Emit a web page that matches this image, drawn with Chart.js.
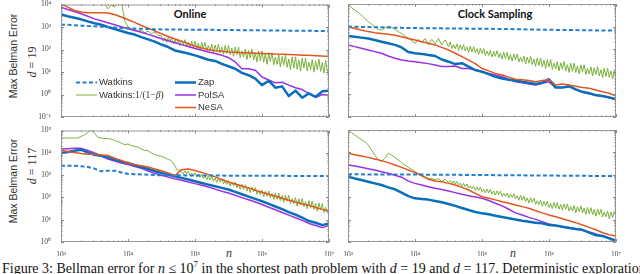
<!DOCTYPE html>
<html>
<head>
<meta charset="utf-8">
<script src="https://cdn.jsdelivr.net/npm/chart.js@4.4.1/dist/chart.umd.min.js"></script>
<style>
  html, body { margin: 0; padding: 0; background: #fff; }
  body { width: 640px; height: 274px; overflow: hidden; position: relative; }
  canvas { position: absolute; }
  .lbl { position: absolute; white-space: nowrap; color: #333; transform: translate(-50%, -50%); }
  .rot { transform: translate(-50%, -50%) rotate(-90deg); }
  .ytitle { font: 10.5px "Liberation Sans", Arial, sans-serif; }
  .dlab { font: 12px "Liberation Serif", serif; }
  .ptitle { font: bold 11px Lato, "Liberation Sans", sans-serif; color: #111; }
  .nlab { font: italic 12px "Liberation Serif", serif; }
  #caption { position: absolute; left: 2px; top: 257px; font: 14px/14px "Liberation Serif", serif; color: #111; white-space: nowrap; }
</style>
</head>
<body>
<div class="lbl rot ytitle" style="left:13px;top:56px">Max Belman Error</div>
<div class="lbl rot dlab" style="left:32px;top:62px"><i>d</i> = 19</div>
<div class="lbl rot ytitle" style="left:13px;top:181px">Max Belman Error</div>
<div class="lbl rot dlab" style="left:32px;top:166px"><i>d</i> = 117</div>
<div class="lbl ptitle" style="left:190px;top:13px">Online</div>
<div class="lbl ptitle" style="left:495px;top:13px">Clock Sampling</div>
<div class="lbl nlab" style="left:229px;top:253px">n</div>
<div class="lbl nlab" style="left:513px;top:253px">n</div>
<div id="caption">Figure 3: Bellman error for <i>n</i> ≤ 10<sup style="font-size:9px">7</sup> in the shortest path problem with <i>d</i> = 19 and <i>d</i> = 117. Deterministic exploration</div>

<script>
// sample grids (n)
const N10 = [1e3,1.26e3,1.58e3,2e3,2.51e3,3.16e3,3.98e3,5.01e3,6.31e3,7.94e3,
  1e4,1.26e4,1.58e4,2e4,2.51e4,3.16e4,3.98e4,5.01e4,6.31e4,7.94e4,
  1e5,1.26e5,1.58e5,2e5,2.51e5,3.16e5,3.98e5,5.01e5,6.31e5,7.94e5,
  1e6,1.26e6,1.58e6,2e6,2.51e6,3.16e6,3.98e6,5.01e6,6.31e6,7.94e6,1e7];
// early part of the 1/(1-beta) runs
const N_HEAD = [1e3,1.12e3,1.26e3,1.41e3,1.58e3,1.78e3,2e3,2.24e3,2.51e3,2.82e3,3.16e3,3.55e3,3.98e3,4.47e3,5.01e3,5.62e3,6.31e3,7.08e3,7.94e3,8.91e3,
  1e4,1.12e4,1.26e4,1.41e4,1.58e4,1.78e4,2e4,2.24e4,2.51e4,2.82e4];
// noisy part of the 1/(1-beta) runs, denser sampling
const N_TAIL = [3.16e4,3.35e4,3.55e4,3.76e4,3.98e4,4.22e4,4.47e4,4.73e4,5.01e4,5.31e4,5.62e4,5.96e4,6.31e4,6.68e4,7.08e4,7.5e4,7.94e4,8.41e4,8.91e4,9.44e4,
  1e5,1.06e5,1.12e5,1.19e5,1.26e5,1.33e5,1.41e5,1.5e5,1.58e5,1.68e5,1.78e5,1.88e5,2e5,2.11e5,2.24e5,2.37e5,2.51e5,2.66e5,2.82e5,2.99e5,
  3.16e5,3.35e5,3.55e5,3.76e5,3.98e5,4.22e5,4.47e5,4.73e5,5.01e5,5.31e5,5.62e5,5.96e5,6.31e5,6.68e5,7.08e5,7.5e5,7.94e5,8.41e5,8.91e5,9.44e5,
  1e6,1.06e6,1.12e6,1.19e6,1.26e6,1.33e6,1.41e6,1.5e6,1.58e6,1.68e6,1.78e6,1.88e6,2e6,2.11e6,2.24e6,2.37e6,2.51e6,2.66e6,2.82e6,2.99e6,
  3.16e6,3.35e6,3.55e6,3.76e6,3.98e6,4.22e6,4.47e6,4.73e6,5.01e6,5.31e6,5.62e6,5.96e6,6.31e6,6.68e6,7.08e6,7.5e6,7.94e6,8.41e6,8.91e6,9.44e6,1e7];

const X_TICKS = [1e3, 1e4, 1e5, 1e6, 1e7];
const Y_TICKS_TOP = [1e-1, 1e0, 1e1, 1e2, 1e3, 1e4];
const Y_TICKS_BOTTOM = [1e0, 1e1, 1e2, 1e3, 1e4, 1e5];

// d = 19, online
const TL_WATKINS = [1300,1250,1200,1150,1100,1070,1030,990,950,900,870,850,830,810,795,780,775,770,765,760,
  760,755,750,745,740,735,730,725,720,715,710,705,700,695,690,685,680,675,670,665,660];
const TL_BETA_HEAD = [40000,38000,36000,34000,32000,30000,28000,26000,24000,22000,20000,18000,16000,11500,6400,9300,7600,12600,14000,1950,
  1000,830,760,660,710,560,650,500,600,420];
const TL_BETA_TAIL = [398,233,336,203,347,219,340,179,264,177,285,147,260,157,275,135,215,116,238,121,
  234,108,189,93,206,109,206,86,150,89,172,73,157,83,173,71,129,60,150,66,
  151,59,116,49,129,59,128,44,87,46,103,36,91,42,103,34,72,28,87,31,
  87,27,64,22,72,29,72,21,46,22,56,17,49,20,56,16,38,13,46,15,
  47,13,34,11,41,15,42,11,27,12.5,35,9.8,31,12.6,37,10.6,26,8.9,33,10.6,17];
const TL_ZAP = [3630,3020,2570,2190,1780,1480,1260,1000,810,660,540,460,355,280,224,166,129,91,78,66,
  55,44,35,31,23,18,14,9.1,7.2,5.1,2.6,4.1,2.0,2.3,0.85,1.48,0.72,1.12,0.79,1.38,1.48];
const TL_POLSA = [7600,6000,4900,3900,3000,2300,1900,1550,1260,1020,830,700,580,470,380,300,245,200,165,135,
  110,92,78,66,55,44,28,14,14,12,6,4.4,3.3,3.5,2.6,2.0,1.66,1.1,0.74,1.0,0.93];
const TL_NESA = [11000,7600,5400,4600,4300,4300,4300,4200,3600,2800,2100,1600,1170,890,660,500,380,295,230,182,
  138,117,98,89,83,78,76,72,71,68,66,65,63,62,60,58,56,55,53,51,50];

// d = 19, clock sampling
const TR_WATKINS = [1000,985,970,955,940,925,910,895,880,870,860,850,845,840,835,830,825,820,810,805,
  800,795,790,785,780,770,760,750,740,730,720,715,710,705,700,695,690,680,675,670,660];
const TR_BETA_HEAD = [9100,7100,5400,4300,3300,2300,1660,1300,1000,760,700,890,1000,930,760,600,500,380,300,240,
  182,275,195,300,155,275,170,300,155,257];
const TR_BETA_TAIL = [130,211,106,160,106,172,89,155,95,160,83,126,72,135,75,130,68,106,59,110,
  65,107,53,81,53,89,45,81,48,86,42,67,36,74,38,72,34,58,30,62,
  34,61,27,45,27,50,22,45,24,49,21,36,17.5,41,18.7,41,16.5,32,13.9,35,
  16.6,35,12.9,24,13.5,28,11,25,12.8,28,10.9,20.6,9.4,24,10.4,24,9.3,18.5,8.0,20.4,
  9.8,20.4,7.6,14.3,8.0,16.6,6.5,15,7.6,16.6,6.5,12.3,5.6,14.3,6.2,14.3,5.6,11.1,4.8,12.3,7.6];
const TR_ZAP = [380,355,325,295,257,215,182,155,120,75,66,62,55,50,35,28,22,24,17,12,
  10,7.9,6.0,5.1,4.4,4.1,3.6,3.3,2.9,3.3,4.7,2.0,2.0,2.3,1.66,1.3,1.12,0.93,0.85,0.74,0.6];
const TR_POLSA = [155,130,110,92,78,66,50,40,33,30,28,25,23,20,17,17,18,14,14,12,
  10,8.5,7.2,6.0,4.7,3.6,3.3,2.9,2.6,3.1,3.6,2.0,2.0,2.2,1.6,1.25,1.08,0.9,0.82,0.7,0.58];
const TR_NESA = [1000,830,700,600,540,500,455,410,355,300,257,215,182,155,120,92,66,47,33,23,
  14,11,8.5,7.2,5.8,4.7,4.4,4.1,3.6,4.1,4.4,2.6,2.9,2.6,2.3,2.0,1.86,1.55,1.3,1.12,0.85];

// d = 117, online
const BL_WATKINS = [2600,2600,2600,2500,2300,1950,1480,1580,1580,1320,1120,1100,1070,1050,1000,990,985,980,975,970,
  965,960,955,950,948,945,942,940,937,935,932,930,927,925,922,920,917,915,912,910,905];
const BL_BETA_HEAD = [46000,46000,46000,46000,46000,46000,54000,64000,81000,107000,76000,49000,46000,44000,43000,41000,36000,32000,27000,23000,
  25000,21000,19500,18000,14700,12800,12400,9700,8200,7500];
const BL_BETA_TAIL = [7000,6500,6100,5500,5000,4800,4200,3600,2600,1900,1500,1800,1300,1125,1560,1140,1500,970,1230,930,
  1260,800,1130,800,1120,700,915,610,930,600,880,535,733,464,730,484,692,400,542,385,
  557,321,491,322,485,273,380,230,388,226,363,196,290,165,290,174,272,137,201,131,
  209,107,187,112,193,95,148,80,160,82,155,72,122,60,128,67,124,52,88,51,
  98,41,86,45,90,38,65,31,72,33,69,29,53,24,55,28,53,21,37,21,28];
const BL_ZAP = [9800,10800,12400,13700,10500,8100,7400,6200,4900,4100,3500,2800,2300,1870,1520,1250,1050,890,750,630,
  530,445,375,315,267,225,178,139,109,86,67,51,39,30,22,17,12.3,8.7,7.3,5.7,6.8];
const BL_POLSA = [14700,15200,15800,15800,12800,9800,7400,5200,4300,3500,2950,2450,2000,1520,1200,980,830,690,590,490,
  415,350,290,235,190,158,125,98,78,62,48,36,28,21,16,12.3,9.3,6.8,5.5,4.4,5.5];
const BL_NESA = [12900,11500,10400,9400,8700,8500,7900,7600,5700,4500,3500,2950,2600,2300,1870,1580,1250,950,1740,1870,
  1620,1320,1050,830,630,490,400,325,267,210,170,139,112,91,74,62,51,44,35,29,24];

// d = 117, clock sampling
const BR_WATKINS = [1050,1048,1045,1043,1040,1038,1035,1032,1030,1027,1025,1020,1015,1010,1005,1000,995,990,985,980,
  975,970,965,960,955,950,945,940,935,930,925,920,915,910,905,900,895,890,885,880,875];
const BR_BETA_HEAD = [100000,76000,60000,47000,38000,30000,21500,12900,7600,4600,3900,5500,9100,7600,6000,4600,3500,2700,2150,1750,
  1380,1170,980,830,690,675,590,690,490,630];
const BR_BETA_TAIL = [461,544,405,533,386,498,344,425,301,412,300,386,252,313,238,312,202,280,200,274,
  174,227,154,233,154,224,140,190,124,192,130,185,109,148,107,154,92,140,95,143,
  84,116,73,120,72,114,64,94,55,95,59,91,48,69,47,73,39,65,41,67,
  35,53,31,58,32,57,29,47,26,50,29,50,24,38,24,42,20,38,22.5,41,
  19.7,32,17,35,18,34,16.4,28,14.2,30,16.3,29,13,21.5,13.3,24,11,21.6,12.3,23,15];
const BR_ZAP = [830,690,590,490,415,350,275,225,160,112,89,83,78,68,59,50,41,33,27,22,
  19,17.4,15,13,11.5,10,8.9,8.1,7.2,6.8,5.7,5.4,4.8,4.2,3.8,3.5,2.6,2.0,1.86,1.45,1.1];
const BR_POLSA = [2750,2450,2150,1870,1630,1380,1170,960,780,520,415,350,295,250,220,190,160,135,117,102,
  89,71,54,41,29,20,16,12.6,10.2,8.1,6.3,5.4,4.8,4.4,3.8,3.3,2.8,2.3,1.86,1.51,1.23];
const BR_NESA = [9100,7900,6900,6000,5100,4300,3500,2750,2150,1630,1250,890,630,530,490,415,350,275,210,148,
  105,89,76,63,54,45,38,32,25,20,16,13.5,11,8.9,7.3,5.7,4.5,3.5,2.6,2.1,1.86];

const C_WATKINS = "#1f7fd0";
const C_BETA = "#7ab03a";
const C_ZAP = "#0a6fba";
const C_POLSA = "#9b30e8";
const C_NESA = "#e2561f";

const SUP = { "-": "\u207B", "0": "\u2070", "1": "\u00B9", "2": "\u00B2", "3": "\u00B3",
  "4": "\u2074", "5": "\u2075", "6": "\u2076", "7": "\u2077", "8": "\u2078", "9": "\u2079" };
function powLabel(v) {
  const e = String(Math.round(Math.log10(v)));
  return "10" + e.split("").map(c => SUP[c]).join("");
}

function pts(xs, ys) {
  return xs.map((x, i) => ({ x, y: ys[i] }));
}

const PAD = { l: 24, t: 6, r: 8, b: 14 };

// frame + inward ticks (major and minor), like the MATLAB box
const framePlugin = {
  id: "frame",
  afterDatasetsDraw(chart) {
    const { ctx, chartArea: a, scales } = chart;
    ctx.save();
    ctx.strokeStyle = "#9a9a9a";
    ctx.lineWidth = 1;
    ctx.strokeRect(a.left + 0.5, a.top + 0.5, a.right - a.left - 1, a.bottom - a.top - 1);
    ctx.strokeStyle = "#8a8a8a";
    ctx.beginPath();
    const xs = scales.x, ys = scales.y;
    for (let e = Math.log10(xs.min); e < Math.log10(xs.max) + 0.5; e++) {
      for (let k = 1; k <= 9; k++) {
        const v = k * Math.pow(10, e);
        if (v > xs.max * 1.001) break;
        const px = Math.round(xs.getPixelForValue(v)) + 0.5;
        const len = k === 1 ? 3 : 1.5;
        ctx.moveTo(px, a.bottom); ctx.lineTo(px, a.bottom - len);
        ctx.moveTo(px, a.top); ctx.lineTo(px, a.top + len);
      }
    }
    for (let e = Math.round(Math.log10(ys.min)); e < Math.log10(ys.max) + 0.5; e++) {
      for (let k = 1; k <= 9; k++) {
        const v = k * Math.pow(10, e);
        if (v > ys.max * 1.001) break;
        const py = Math.round(ys.getPixelForValue(v)) + 0.5;
        const len = k === 1 ? 3 : 1.5;
        ctx.moveTo(a.left, py); ctx.lineTo(a.left + len, py);
        ctx.moveTo(a.right, py); ctx.lineTo(a.right - len, py);
      }
    }
    ctx.stroke();
    ctx.restore();
  }
};

// two-column legend inside the first panel
const LEGEND_ITEMS = [
  { ds: 0, col: 0, row: 0, text: "Watkins" },
  { ds: 4, col: 0, row: 1, text: "Watkins:", math: true },
  { ds: 2, col: 1, row: 0, text: "Zap" },
  { ds: 3, col: 1, row: 1, text: "PolSA" },
  { ds: 1, col: 1, row: 2, text: "NeSA" }
];
const legendPlugin = {
  id: "innerLegend",
  afterDraw(chart, args, opts) {
    if (!opts.show) return;
    const { ctx, chartArea: a } = chart;
    ctx.save();
    for (const it of LEGEND_ITEMS) {
      const ds = chart.data.datasets[it.ds];
      const x0 = a.left + opts.x[it.col];
      const y0 = a.top + opts.y0 + it.row * opts.dy;
      ctx.strokeStyle = ds.borderColor;
      ctx.lineWidth = ds.borderWidth;
      ctx.setLineDash(ds.borderDash || []);
      ctx.beginPath();
      ctx.moveTo(x0, y0); ctx.lineTo(x0 + opts.len, y0);
      ctx.stroke();
      ctx.setLineDash([]);
      ctx.fillStyle = "#333";
      ctx.textBaseline = "middle";
      ctx.font = "9.5px 'Liberation Sans', Arial, sans-serif";
      let tx = x0 + opts.len + 2;
      ctx.fillText(it.text, tx, y0);
      if (it.math) {
        tx += ctx.measureText(it.text).width;
        ctx.font = "9.5px 'Liberation Serif', serif";
        ctx.fillText("1/(1\u2212", tx, y0);
        tx += ctx.measureText("1/(1\u2212").width;
        ctx.font = "italic 9.5px 'Liberation Serif', serif";
        ctx.fillText("\u03B2", tx, y0);
        tx += ctx.measureText("\u03B2").width;
        ctx.font = "9.5px 'Liberation Serif', serif";
        ctx.fillText(")", tx, y0);
      }
    }
    ctx.restore();
  }
};

function makePanel(box, series, yTicks, showX, showY, legend) {
  const cv = document.createElement("canvas");
  const w = box.w + PAD.l + PAD.r, h = box.h + PAD.t + PAD.b;
  cv.width = w; cv.height = h;
  cv.style.left = (box.left - PAD.l) + "px";
  cv.style.top = (box.top - PAD.t) + "px";
  cv.style.width = w + "px"; cv.style.height = h + "px";
  document.body.appendChild(cv);

  const tickFont = { family: "'Liberation Serif', serif", size: 7.5 };
  const betaPts = pts(N_HEAD, series.betaHead).concat(pts(N_TAIL, series.betaTail));
  new Chart(cv, {
    type: "line",
    data: {
      datasets: [
        { label: "Watkins", data: pts(N10, series.watkins), borderColor: C_WATKINS, borderWidth: 2, borderDash: [4, 2.5], order: 0 },
        { label: "NeSA", data: pts(N10, series.nesa), borderColor: C_NESA, borderWidth: 1.5, order: 1 },
        { label: "Zap", data: pts(N10, series.zap), borderColor: C_ZAP, borderWidth: 2.5, order: 2 },
        { label: "PolSA", data: pts(N10, series.polsa), borderColor: C_POLSA, borderWidth: 1.5, order: 3 },
        { label: "Watkins:1/(1-\u03B2)", data: betaPts, borderColor: C_BETA, borderWidth: 1, order: 4 }
      ]
    },
    options: {
      responsive: false,
      animation: false,
      devicePixelRatio: 1,
      layout: { padding: { left: 0, top: PAD.t, right: PAD.r, bottom: 0 } },
      elements: { point: { radius: 0 }, line: { tension: 0, borderJoinStyle: "round" } },
      plugins: {
        legend: { display: false },
        tooltip: { enabled: false },
        innerLegend: legend || { show: false }
      },
      scales: {
        x: {
          type: "logarithmic", min: 1e3, max: 1e7,
          grid: { display: false }, border: { display: false },
          afterBuildTicks: s => { s.ticks = X_TICKS.map(v => ({ value: v })); },
          afterFit: s => { s.height = PAD.b; },
          ticks: { display: showX, callback: powLabel, font: tickFont, color: "#444", padding: 1, maxRotation: 0, autoSkip: false }
        },
        y: {
          type: "logarithmic", min: yTicks[0], max: yTicks[yTicks.length - 1],
          grid: { display: false }, border: { display: false },
          afterBuildTicks: s => { s.ticks = yTicks.map(v => ({ value: v })); },
          afterFit: s => { s.width = PAD.l; },
          ticks: { display: showY, callback: powLabel, font: tickFont, color: "#444", padding: 2, autoSkip: false }
        }
      }
    },
    plugins: [framePlugin, legendPlugin]
  });
}

const LEGEND_TL = { show: true, x: [15, 114], y0: 78, dy: 12.5, len: 21 };

makePanel({ left: 61, top: 4, w: 268, h: 113 },
  { watkins: TL_WATKINS, betaHead: TL_BETA_HEAD, betaTail: TL_BETA_TAIL, zap: TL_ZAP, polsa: TL_POLSA, nesa: TL_NESA },
  Y_TICKS_TOP, false, true, LEGEND_TL);
makePanel({ left: 348, top: 4, w: 268, h: 113 },
  { watkins: TR_WATKINS, betaHead: TR_BETA_HEAD, betaTail: TR_BETA_TAIL, zap: TR_ZAP, polsa: TR_POLSA, nesa: TR_NESA },
  Y_TICKS_TOP, false, false);
makePanel({ left: 61, top: 130, w: 268, h: 112 },
  { watkins: BL_WATKINS, betaHead: BL_BETA_HEAD, betaTail: BL_BETA_TAIL, zap: BL_ZAP, polsa: BL_POLSA, nesa: BL_NESA },
  Y_TICKS_BOTTOM, true, true);
makePanel({ left: 348, top: 130, w: 268, h: 112 },
  { watkins: BR_WATKINS, betaHead: BR_BETA_HEAD, betaTail: BR_BETA_TAIL, zap: BR_ZAP, polsa: BR_POLSA, nesa: BR_NESA },
  Y_TICKS_BOTTOM, true, false);
</script>
</body>
</html>
